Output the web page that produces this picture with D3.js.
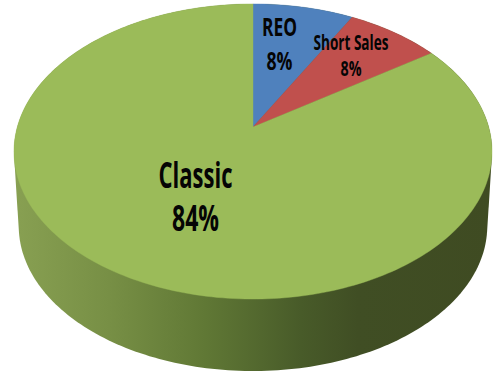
<!DOCTYPE html>
<html>
<head>
<meta charset="utf-8">
<script src="https://cdn.jsdelivr.net/npm/d3@7"></script>
<style>
  html, body { margin: 0; padding: 0; background: #fff; overflow: hidden; }
  text { font-family: "Open Sans", sans-serif; font-weight: bold; fill: #050505; text-anchor: middle; }
</style>
</head>
<body>
<div id="chart"></div>
<script>
var categories = ["REO", "Short Sales", "Classic"];
var values = [8, 7.5, 84.5];
var valueLabels = ["8%", "8%", "84%"];
var colors = ["#4f81bd", "#c0504d", "#9bbb59"];

var width = 497, height = 373;

// the pie is tilted, so far side is smaller than the near side
var k = 0.166;
var topDisc = { x: 253, y: 127, a: 235.7, b: 143.5 };
var bottomDisc = { x: 253, y: 202, a: 231, b: 141 };

function project(disc, angle) {
    var px = Math.sin(angle), py = Math.cos(angle);
    var w = 1 + k * py;
    return [disc.x + disc.a * px / w, disc.y - disc.b * py / w];
}

function arcPoints(disc, start, end) {
    var n = Math.max(2, Math.ceil((end - start) / 0.02));
    return d3.range(n + 1).map(function (i) {
        return project(disc, start + (end - start) * i / n);
    });
}

var svg = d3.select("#chart")
    .append("svg")
    .attr("width", width)
    .attr("height", height)
    .style("display", "block");

// side shading
var gradient = svg.append("defs").append("linearGradient")
    .attr("id", "side")
    .attr("gradientUnits", "userSpaceOnUse")
    .attr("x1", 14).attr("x2", 492)
    .attr("y1", 0).attr("y2", 0);

[[0, "#88a052"], [0.2, "#778f45"], [0.4, "#607835"], [0.6, "#485b29"], [0.72, "#404e24"], [1, "#3f4b22"]]
    .forEach(function (s) {
        gradient.append("stop").attr("offset", s[0]).attr("stop-color", s[1]);
    });

var hull = d3.polygonHull(arcPoints(topDisc, 0, 2 * Math.PI).concat(arcPoints(bottomDisc, 0, 2 * Math.PI)));
var line = d3.line();

svg.append("path")
    .attr("d", line(hull) + "Z")
    .attr("fill", "url(#side)");

// top face
var pie = d3.pie().sort(null);
var slices = pie(values);

svg.selectAll("path.slice")
    .data(slices)
    .enter()
    .append("path")
    .attr("class", "slice")
    .attr("fill", function (d, i) { return colors[i]; })
    .attr("stroke", function (d, i) { return colors[i]; })
    .attr("stroke-width", 0.4)
    .attr("d", function (d) {
        var pts = [[topDisc.x, topDisc.y]].concat(arcPoints(topDisc, d.startAngle, d.endAngle));
        return line(pts) + "Z";
    });

// labels, squeezed with textLength because the original face is a narrow one
var labelPos = [
    { x: 279.5, y1: 36, y2: 70, size: 25, w1: 35, w2: 26 },
    { x: 351, y1: 50, y2: 76, size: 20.5, w1: 75, w2: 21 },
    { x: 195.5, y1: 187.5, y2: 230.5, size: 35, w1: 74, w2: 47 }
];

function addLabel(x, y, size, w, str) {
    svg.append("text")
        .attr("x", x)
        .attr("y", y)
        .attr("textLength", w)
        .attr("lengthAdjust", "spacingAndGlyphs")
        .style("font-size", size + "px")
        .text(str);
}

categories.forEach(function (c, i) {
    var p = labelPos[i];
    addLabel(p.x, p.y1, p.size, p.w1, c);
    addLabel(p.x, p.y2, p.size, p.w2, valueLabels[i]);
});
</script>
</body>
</html>
